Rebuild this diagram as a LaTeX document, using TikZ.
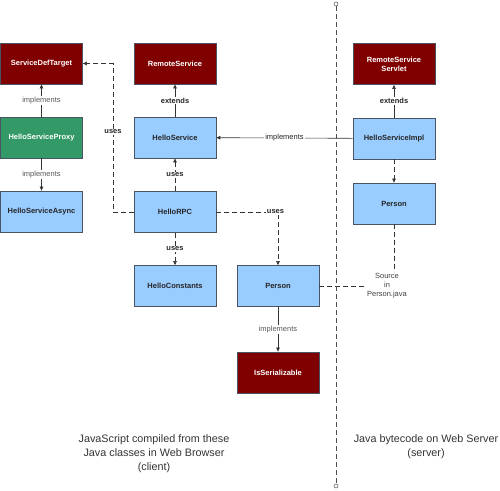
\documentclass[tikz,border=0pt]{standalone}
\usepackage{fontspec}
\setmainfont{Liberation Sans}
\usetikzlibrary{arrows.meta}

\definecolor{ifacered}{HTML}{800000}
\definecolor{proxygreen}{HTML}{339966}
\definecolor{classblue}{HTML}{99CCFF}
\definecolor{boxline}{HTML}{4A5464}

\tikzset{
  box/.style={rectangle, draw=boxline, line width=0.8pt, minimum width=82pt, minimum height=41pt,
    font=\fontsize{7.5}{9}\selectfont\bfseries, align=center, inner sep=1pt},
  iface/.style={box, fill=ifacered, text=white},
  proxy/.style={box, fill=proxygreen, text=white},
  klass/.style={box, fill=classblue, text=black!85},
  link/.style={line width=0.6pt, black!80, -{Triangle[length=4pt,width=3.5pt]}},
  dlink/.style={link, dash pattern=on 5pt off 3pt},
  lbl/.style={fill=white, inner sep=1pt, font=\fontsize{7.5}{8}\selectfont, text=black!65},
  blbl/.style={lbl, font=\fontsize{7.5}{8}\selectfont\bfseries, text=black!85},
  note/.style={font=\fontsize{10.8}{14}\selectfont, align=center, text=black!80}
}

\begin{document}
\begin{tikzpicture}[x=1pt, y=-1pt]
      \useasboundingbox (0,0) rectangle (500,490);

      % client side
      \node[iface] (sdt) at (41.5,63.5) {ServiceDefTarget};
      \node[iface] (rs) at (175,63.5) {RemoteService};
      \node[proxy] (proxy) at (41.5,137.5) {HelloServiceProxy};
      \node[klass] (hs) at (175,137.5) {HelloService};
      \node[klass] (async) at (41.5,211.5) {HelloServiceAsync};
      \node[klass] (rpc) at (175,212) {HelloRPC};
      \node[klass] (consts) at (175,286) {HelloConstants};
      \node[klass] (personc) at (278,286) {Person};
      \node[iface] (isser) at (278,372.5) {IsSerializable};

      % server side
      \node[iface] (rss) at (394,64) {RemoteService\\Servlet};
      \node[klass] (impl) at (394,138.5) {HelloServiceImpl};
      \node[klass] (persons) at (394,203.5) {Person};
      \node[font=\fontsize{7.5}{9}\selectfont, align=center, text=black!75, inner sep=1pt] (src) at (387,286) {Source\\in\\Person.java};

      \draw[link] (proxy) -- node[lbl] {implements} (sdt);
      \draw[link] (proxy) -- node[lbl] {implements} (async);
      \draw[link] (hs) -- node[blbl] {extends} (rs);
      \draw[dlink] (rpc) -- node[blbl] {uses} (hs);
      \draw[dlink] (rpc) -- node[blbl] {uses} (consts);
      \coordinate (bend) at (113,212);
      \draw[dlink] (rpc.west) -- (bend) |- node[blbl, pos=0.27] {uses} (sdt.east);
      \draw[dlink] (rpc.east) -| node[blbl, pos=0.48] {uses} (personc.north);
      \draw[link] (personc) -- node[lbl] {implements} (isser);

      \draw[link] (impl) -- node[lbl, text=black!85] {implements} (hs);
      \draw[link] (impl) -- node[blbl] {extends} (rss);
      \draw[dlink] (impl) -- (persons);
      \draw[line width=0.6pt, black!80, dash pattern=on 5pt off 3pt] (persons.south) -- (persons.south |- src.north);
      \draw[line width=0.6pt, black!80, dash pattern=on 5pt off 3pt] (personc.east) -- (src.west);

      % client / server divider
      \coordinate (top) at (336,4);
      \coordinate (bottom) at (336,486);
      \draw[line width=0.6pt, black!70, dash pattern=on 5pt off 3pt, shorten <=2pt, shorten >=2pt] (top) -- (bottom);
      \draw[line width=0.5pt, black!70] (top) circle (2pt) (bottom) circle (2pt);

      \node[note] (client) at (154,454) {JavaScript compiled from these\\Java classes in Web Browser\\(client)};
      \node[note] (server) at (426,447) {Java bytecode on Web Server\\(server)};
\end{tikzpicture}
\end{document}
